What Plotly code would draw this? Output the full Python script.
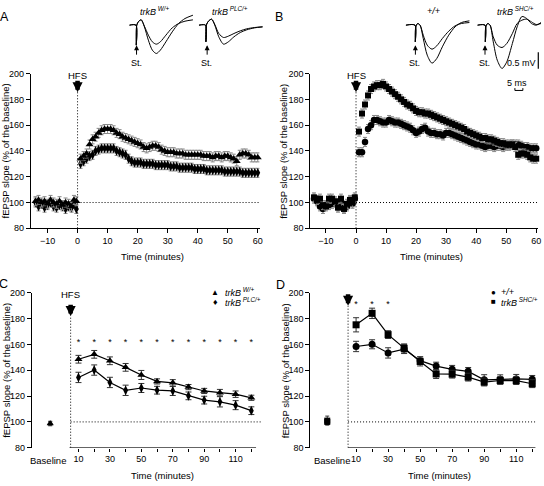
import plotly.graph_objects as go

W, H = 544, 486
def px(x): return x / W
def py(y): return 1 - y / H

FONT = "Liberation Sans, Arial, Helvetica, sans-serif"

# ---------------- Panels A / B (time courses, 1-min bins) ----------------
base_t = [-14, -13, -12, -11, -10, -9, -8, -7, -6, -5, -4, -3, -2, -1.2, -0.4]
post_t = list(range(1, 61))

A_w_base = [101, 102, 100, 101, 99, 102, 100, 99, 101, 98, 100, 99, 97, 102, 101]
A_w_post = [134, 136, 138, 145, 149, 151, 154, 156, 157, 157, 157, 156, 154, 153, 151,
            150, 149, 148, 147, 146, 145, 143, 142, 143, 144, 144, 143, 141, 140, 139,
            139, 139, 138, 138, 138, 137, 137, 137, 137, 137, 137, 136, 136, 136, 135,
            136, 136, 135, 136, 136, 135, 134, 132, 137, 138, 138, 137, 135, 135, 135]
A_p_base = [100, 97, 99, 96, 98, 100, 97, 96, 98, 97, 95, 97, 96, 99, 95]
A_p_post = [130, 132, 134, 136, 137, 140, 141, 142, 142, 142, 142, 142, 140, 139, 138,
            137, 134, 132, 131, 131, 131, 130, 130, 130, 130, 129, 129, 129, 129, 129,
            128, 128, 128, 127, 127, 127, 127, 127, 126, 126, 126, 126, 125, 125, 125,
            125, 125, 125, 124, 124, 124, 124, 124, 124, 123, 123, 123, 123, 123, 123]

B_s_base = [104, 102, 103, 98, 97, 103, 103, 101, 96, 103, 95, 99, 102, 100, 104]
B_s_post = [155, 169, 176, 183, 188, 190, 191, 191, 192, 190, 188, 186, 184, 182, 180,
            178, 176, 175, 173, 171, 170, 170, 169, 169, 168, 167, 166, 165, 164, 163,
            162, 161, 160, 159, 158, 157, 155, 154, 153, 152, 151, 150, 150, 149, 149,
            148, 147, 146, 146, 145, 145, 145, 143, 137, 138, 138, 137, 135, 134, 134]
B_c_base = [103, 101, 97, 95, 98, 98, 99, 100, 97, 101, 96, 97, 101, 99, 103]
B_c_post = [139, 139, 147, 157, 160, 164, 164, 163, 162, 162, 164, 163, 162, 162, 161,
            160, 159, 158, 156, 154, 155, 157, 158, 155, 154, 154, 153, 153, 152, 154,
            154, 153, 152, 151, 150, 149, 148, 147, 146, 145, 145, 144, 143, 144, 144,
            143, 144, 144, 143, 144, 144, 145, 145, 145, 144, 143, 143, 142, 142, 142]
SEM_AB = 3.5

# ---------------- Panels C / D (10-min bins) ----------------
bin_t = [10, 20, 30, 40, 50, 60, 70, 80, 90, 100, 110, 120]
baseline_x = -8

C_w = [148.6, 152.4, 147.4, 142.3, 136.4, 131.4, 130.3, 127.0, 124.0, 122.7, 121.5, 118.7]
C_w_err = [3, 3, 3, 3, 3.5, 2, 2.5, 2, 2, 2.5, 2.5, 2]
C_p = [134.5, 140.2, 130.6, 124.5, 126.3, 124.6, 124.0, 120.2, 116.9, 115.6, 113.0, 108.7]
C_p_err = [4, 4, 4, 4, 3.5, 3, 3.5, 3, 3, 4, 3.5, 3]
C_base = [99, 98.5]
C_base_err = [1.5, 1.5]
C_star_t = bin_t

D_s = [175.3, 184.2, 167.7, 157.0, 146.9, 137.2, 137.0, 134.7, 130.9, 132.1, 132.0, 129.6]
D_s_err = [5.5, 4, 3, 3.5, 3.5, 3.5, 3, 3, 3, 3, 3, 3]
D_c = [158.5, 160.2, 153.5, 156.5, 147.5, 143.3, 140.8, 139.2, 132.6, 133.0, 133.3, 133.0]
D_c_err = [4, 3.5, 4, 3.5, 3, 3, 3, 3, 4, 3.5, 3.5, 3]
D_base = [101, 100]
D_base_err = [3.5, 2]
D_star_t = [10, 20, 30]

# ---------------- inset waveforms (ms, mV) ----------------
A1_t = [0, 4.2, 4.4, 4.7, 6, 7.5, 9.5, 12, 14.5, 17, 19.5, 23, 27, 31, 35, 40]
A1_big = [0, 0, -0.6, 0.0, 0.12, 0.16, -0.05, -0.45, -0.75, -0.85, -0.75, -0.5, -0.2, 0.05, 0.2, 0.3]
A1_small = [0, 0, -0.6, 0.0, 0.12, 0.16, -0.03, -0.3, -0.5, -0.57, -0.5, -0.3, -0.08, 0.05, 0.12, 0.16]
A2_t = [0, 4.2, 4.4, 4.7, 6, 8, 10, 12.5, 15.5, 18.5, 22, 26, 30, 35, 40]
A2_big = [0, 0, -0.5, 0.0, 0.12, 0.18, 0.0, -0.35, -0.57, -0.5, -0.35, -0.22, -0.14, -0.08, -0.05]
A2_small = [0, 0, -0.5, 0.0, 0.12, 0.18, 0.02, -0.25, -0.37, -0.33, -0.25, -0.17, -0.11, -0.07, -0.05]
B1_t = [0, 5.8, 6.0, 6.3, 7.5, 9, 11, 13.5, 16.5, 19.5, 23, 27, 31, 35, 40]
B1_big = [0, 0, -0.5, -0.05, 0.05, 0.0, -0.4, -0.9, -1.14, -1.0, -0.65, -0.3, -0.05, 0.08, 0.13]
B1_small = [0, 0, -0.5, -0.05, 0.05, 0.0, -0.3, -0.6, -0.72, -0.62, -0.4, -0.18, -0.02, 0.05, 0.08]
B2_t = [0, 4.8, 5.0, 5.3, 6.5, 8, 10, 12.5, 15.5, 18.5, 22, 25, 28, 31, 34, 37, 40]
B2_big = [0, 0, -0.5, -0.05, 0.05, 0.0, -0.5, -1.05, -1.3, -1.1, -0.55, -0.05, 0.26, 0.2, 0.05, 0.0, 0.08]
B2_small = [0, 0, -0.5, -0.05, 0.05, 0.0, -0.35, -0.6, -0.67, -0.55, -0.25, 0.05, 0.15, 0.18, 0.1, 0.02, 0.05]
SCALE_MV = 0.5
SCALE_MS = 5
scale_v_pos = (38.3, -0.81)   # top of vertical bar in inset coords
scale_h_pos = (23.6, -1.96)   # left of horizontal bar

fig = go.Figure()

def pts(x, y, xa, ya, symbol, size, err, ecolor="#888", width=2):
    err_d = dict(type="constant", value=err) if not isinstance(err, list) else dict(type="data", array=err)
    err_d.update(color=ecolor, thickness=1, width=width, visible=True)
    fig.add_trace(go.Scatter(x=x, y=y, xaxis=xa, yaxis=ya, mode="markers",
                             marker=dict(symbol=symbol, size=size, color="black"),
                             error_y=err_d, showlegend=False, cliponaxis=False))

# Panel A
pts(base_t + post_t, A_p_base + A_p_post, "x", "y", "diamond-tall", 7, SEM_AB)
pts(base_t + post_t, A_w_base + A_w_post, "x", "y", "triangle-up", 7, SEM_AB)
# Panel B
pts(base_t + post_t, B_c_base + B_c_post, "x2", "y2", "circle", 6.5, SEM_AB)
pts(base_t + post_t, B_s_base + B_s_post, "x2", "y2", "square", 6, SEM_AB)

# Panel C
for yv, ev, sym in [(C_p, C_p_err, "diamond-tall"), (C_w, C_w_err, "triangle-up")]:
    fig.add_trace(go.Scatter(x=bin_t, y=yv, xaxis="x3", yaxis="y3", mode="lines+markers",
                             line=dict(color="black", width=1.2),
                             marker=dict(symbol=sym, size=7, color="black"),
                             error_y=dict(type="data", array=ev, color="#333", thickness=1, width=3),
                             showlegend=False, cliponaxis=False))
pts([baseline_x, baseline_x], C_base, "x3", "y3", "triangle-up", 6, C_base_err, "#333")
fig.add_trace(go.Scatter(x=C_star_t, y=[161] * len(C_star_t), xaxis="x3", yaxis="y3", mode="text",
                         text=["*"] * len(C_star_t), textfont=dict(size=9, family=FONT, color="black"),
                         showlegend=False))

# Panel D
for yv, ev, sym in [(D_c, D_c_err, "circle"), (D_s, D_s_err, "square")]:
    fig.add_trace(go.Scatter(x=bin_t, y=yv, xaxis="x4", yaxis="y4", mode="lines+markers",
                             line=dict(color="black", width=1.2),
                             marker=dict(symbol=sym, size=7, color="black"),
                             error_y=dict(type="data", array=ev, color="#333", thickness=1, width=3),
                             showlegend=False, cliponaxis=False))
pts([baseline_x, baseline_x], D_base, "x4", "y4", "square", 6, D_base_err, "#333")
fig.add_trace(go.Scatter(x=D_star_t, y=[191] * len(D_star_t), xaxis="x4", yaxis="y4", mode="text",
                         text=["*"] * len(D_star_t), textfont=dict(size=9, family=FONT, color="black"),
                         showlegend=False))

# Insets
for i, (t, big, small) in enumerate([(A1_t, A1_big, A1_small), (A2_t, A2_big, A2_small),
                                     (B1_t, B1_big, B1_small), (B2_t, B2_big, B2_small)]):
    xa, ya = f"x{i+5}", f"y{i+5}"
    for v in (big, small):
        fig.add_trace(go.Scatter(x=t, y=v, xaxis=xa, yaxis=ya, mode="lines",
                                 line=dict(color="black", width=1, shape="spline", smoothing=0.8),
                                 showlegend=False, cliponaxis=False))
# scale bars (in B2 inset coordinates)
sx, sy = scale_v_pos
fig.add_trace(go.Scatter(x=[sx, sx], y=[sy, sy - SCALE_MV], xaxis="x8", yaxis="y8", mode="lines",
                         line=dict(color="black", width=1.2), showlegend=False, cliponaxis=False))
hx, hy = scale_h_pos
fig.add_trace(go.Scatter(x=[hx, hx, hx + SCALE_MS, hx + SCALE_MS], y=[hy + 0.07, hy, hy, hy + 0.07],
                         xaxis="x8", yaxis="y8", mode="lines",
                         line=dict(color="black", width=1), showlegend=False, cliponaxis=False))

tickfont = dict(family=FONT, size=9, color="black")
def yax(dom):
    return dict(domain=dom, range=[80, 200], tickvals=[80, 100, 120, 140, 160, 180, 200],
                showline=True, linecolor="black", linewidth=1, ticks="outside", ticklen=4,
                tickcolor="black", tickfont=tickfont, showgrid=False, zeroline=False)

yAB = [py(228), py(70)]
yCD = [py(452), py(294)]
layout = dict(
    width=W, height=H, margin=dict(l=0, r=0, t=0, b=0),
    paper_bgcolor="white", plot_bgcolor="white", showlegend=False,
    font=dict(family=FONT, color="black"),
    xaxis=dict(domain=[px(31), px(261)], range=[-15.56, 60.6], anchor="y",
               tickvals=[-10, 0, 10, 20, 30, 40, 50, 60], showline=True, linecolor="black",
               ticks="outside", ticklen=4, tickcolor="black", tickfont=tickfont,
               showgrid=False, zeroline=False),
    yaxis=dict(anchor="x", **yax(yAB)),
    xaxis2=dict(domain=[px(312), px(541)], range=[-15.23, 60.6], anchor="y2",
                tickvals=[-10, 0, 10, 20, 30, 40, 50, 60], showline=True, linecolor="black",
                ticks="outside", ticklen=4, tickcolor="black", tickfont=tickfont,
                showgrid=False, zeroline=False),
    yaxis2=dict(anchor="x2", **yax(yAB)),
    xaxis3=dict(domain=[px(32), px(263)], range=[-19.7, 126.5], anchor="y3",
                tickvals=bin_t, ticktext=["10", "", "30", "", "50", "", "70", "", "90", "", "110", ""],
                showline=False, ticks="outside", ticklen=3, tickcolor="black", tickfont=tickfont,
                showgrid=False, zeroline=False),
    yaxis3=dict(anchor="x3", **yax(yCD)),
    xaxis4=dict(domain=[px(312), px(540)], range=[-18.6, 123], anchor="y4",
                tickvals=bin_t, ticktext=["10", "", "30", "", "50", "", "70", "", "90", "", "110", ""],
                showline=False, ticks="outside", ticklen=3, tickcolor="black", tickfont=tickfont,
                showgrid=False, zeroline=False),
    yaxis4=dict(anchor="x4", **yax(yCD)),
)
inset_dom = [(130, 196), (200, 266), (408, 474), (480, 544)]
for i, (a, b) in enumerate(inset_dom):
    layout[f"xaxis{i+5}"] = dict(domain=[px(a), px(b)], range=[0, (b - a) / 1.6], anchor=f"y{i+5}", visible=False)
    layout[f"yaxis{i+5}"] = dict(domain=[py(92), py(3)], range=[-2.1, 0.518], anchor=f"x{i+5}", visible=False)
fig.update_layout(**layout)

shapes = []
dot = dict(color="black", width=1, dash="1px,2px")
# HFS vertical lines and 100% reference lines
for xr, yr, top, xend, xs in [("x", "y", 185.5, 60.6, 0), ("x2", "y2", 185.5, 60.6, 0),
                               ("x3", "y3", 182, 126.5, 5), ("x4", "y4", 190, 123, 5)]:
    shapes.append(dict(type="line", xref=xr, yref=yr, x0=xs, x1=xs, y0=80, y1=top, line=dot))
    shapes.append(dict(type="line", xref=xr, yref=yr, x0=xs, x1=xend, y0=100, y1=100, line=dot))
# x axis lines for C / D start at HFS
shapes.append(dict(type="line", xref="x3", yref="y3", x0=4.3, x1=123, y0=80, y1=80, line=dict(color="black", width=1)))
shapes.append(dict(type="line", xref="x4", yref="y4", x0=5, x1=122, y0=80, y1=80, line=dict(color="black", width=1)))
fig.update_layout(shapes=shapes)

ann = []
def text(x, y, s, size=9.5, **kw):
    d = dict(x=px(x), y=py(y), xref="paper", yref="paper", text=s, showarrow=False,
             font=dict(family=FONT, size=size, color="black"), xanchor="center", yanchor="middle")
    d.update(kw)
    ann.append(d)

# panel letters
text(5, 12.5, "A", 12.5)
text(280.5, 12.5, "B", 12.5)
text(4, 285, "C", 12.5)
text(282.5, 285.5, "D", 12.5)
# axis titles
for x, y in [(153, 257), (434, 257), (163, 480), (442, 480)]:
    text(x, y, "Time (minutes)", 9.5)
for x, y in [(5.5, 149), (285.5, 149), (6.5, 373), (286.5, 373)]:
    text(x, y, "fEPSP slope (% of the baseline)", 9.5, textangle=-90)
# Baseline labels
text(48.5, 465.5, "Baseline", 9.5)
text(333.5, 465.5, "Baseline", 9.5)

# HFS labels + arrows
for xr, yr, xs, tip, ty in [("x", "y", 0, 185.5, 198.8), ("x2", "y2", 0, 185.5, 198.8),
                             ("x3", "y3", 5, 182, 198.7), ("x4", "y4", 5, 190, 204)]:
    ann.append(dict(x=xs, y=ty, xref=xr, yref=yr, text="HFS", showarrow=False,
                    font=dict(family=FONT, size=9.5, color="black")))
    ann.append(dict(x=xs, y=tip, xref=xr, yref=yr, text="", showarrow=True, ax=0, ay=-13,
                    arrowhead=2, arrowsize=0.45, arrowwidth=4.5, arrowcolor="black"))

# inset labels
text(155, 6, "<i>trkB</i><sup> <i>W/+</i></sup>", 9)
text(231, 6, "<i>trkB</i><sup> <i>PLC/+</i></sup>", 9)
text(436, 6, "<i>+/+</i>", 9)
text(518, 6, "<i>trkB</i><sup> <i>SHC/+</i></sup>", 9)
for xs in [137.3, 208.3, 417.7, 487.7]:
    text(xs - 0.5, 59, "St.", 9)
    ann.append(dict(x=px(xs), y=py(41), xref="paper", yref="paper", text="", showarrow=True,
                    ax=0, ay=11, arrowhead=2, arrowsize=1, arrowwidth=1, arrowcolor="black"))
text(524.5, 59.5, "0.5 mV", 9)
text(520, 79.5, "5 ms", 9)

# legends C / D
text(216.5, 293.5, "▲", 8)
text(224, 293, "<i>trkB</i><sup> <i>W/+</i></sup>", 9, xanchor="left")
text(216.5, 303, "♦", 9)
text(224, 303, "<i>trkB</i><sup> <i>PLC/+</i></sup>", 9, xanchor="left")
text(496, 293.5, "●", 8)
text(502, 293, "<i>+/+</i>", 9, xanchor="left")
text(496, 303, "■", 8)
text(502, 303, "<i>trkB</i><sup> <i>SHC/+</i></sup>", 9, xanchor="left")

fig.update_layout(annotations=ann)
fig.write_html("out.html", config={"displayModeBar": False},
               post_script="document.body.style.margin='0';document.body.style.overflow='hidden';")
